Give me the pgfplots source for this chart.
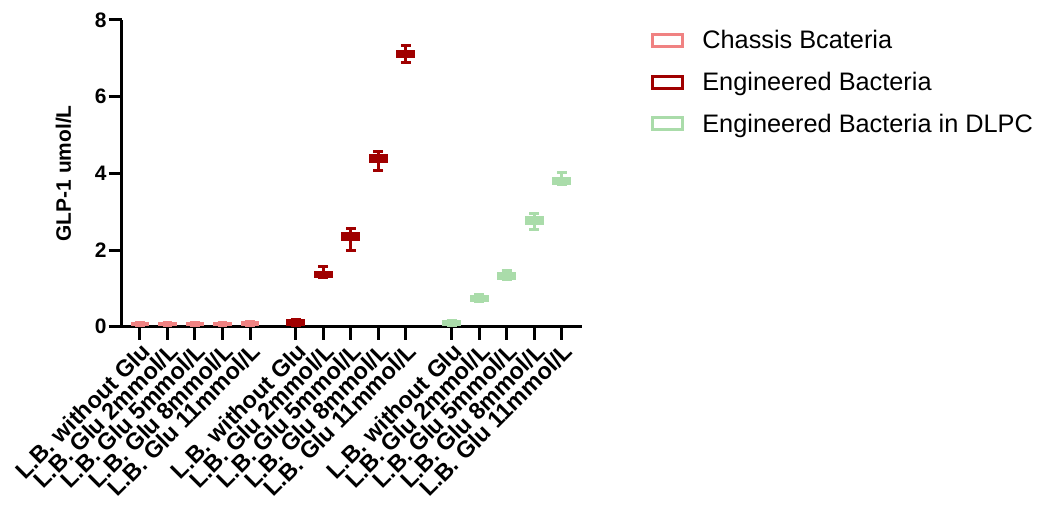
\documentclass[border=0pt]{standalone}
\usepackage{pgfplots}
\pgfplotsset{compat=1.18}
\usepgfplotslibrary{statistics}
\usepackage{fontspec}
\setmainfont{Liberation Sans}
\definecolor{cLight}{RGB}{240,130,130}
\definecolor{cDark}{RGB}{160,0,0}
\definecolor{cGreen}{RGB}{170,220,170}
\pgfplotsset{
  mybox/.style={
    forget plot,
    draw=#1, fill=#1, line width=3bp,
    boxplot/draw direction=y,
    boxplot/box extend=0.65,
    boxplot/whisker extend=0.36,
    boxplot/every box/.style={draw=#1, fill=#1, line width=1bp},
    boxplot/every median/.style={draw=#1, line width=1bp},
    boxplot/every whisker/.style={draw=#1, line width=3bp},
  }
}
\newcommand{\bx}[7]{%
  \addplot[mybox=#1, boxplot prepared={draw position=#2, lower whisker=#3,
     lower quartile=#4, median=#5, upper quartile=#6, upper whisker=#7}] coordinates {};}
\begin{document}
\begin{tikzpicture}
\begin{axis}[
  scale only axis,
  width=460bp, height=306.7bp,
  at={(0,0)}, anchor=south west,
  xmin=-0.665, xmax=16.06,
  ymin=0, ymax=8,
  ytick={0,2,4,6,8},
  xtick={0,1,2,3,4,5.667,6.667,7.667,8.667,9.667,11.333,12.333,13.333,14.333,15.333},
  xticklabels={L.B. without Glu,L.B. Glu 2mmol/L,L.B. Glu 5mmol/L,L.B. Glu 8mmol/L,L.B. Glu 11mmol/L,
               L.B. without Glu,L.B. Glu 2mmol/L,L.B. Glu 5mmol/L,L.B. Glu 8mmol/L,L.B. Glu 11mmol/L,
               L.B. without Glu,L.B. Glu 2mmol/L,L.B. Glu 5mmol/L,L.B. Glu 8mmol/L,L.B. Glu 11mmol/L},
  axis x line*=bottom, axis y line*=left,
  axis line style={line width=3bp, black},
  tick align=outside,
  major tick length=13bp,
  tick style={line width=3bp, black},
  /pgf/number format/assume math mode=true,
  yticklabel style={font=\fontsize{21}{21}\selectfont\bfseries, inner sep=2bp},
  xticklabel style={font=\fontsize{23.5}{23.5}\selectfont\bfseries, rotate=45, anchor=north east, inner sep=1bp},
  ylabel={GLP-1 umol/L},
  ylabel style={font=\fontsize{21}{21}\selectfont\bfseries, at={(axis description cs:-0.102,0.5)}, anchor=south, rotate=0},
  clip=false,
  legend style={at={(axis description cs:1.143,0.98)}, anchor=north west, draw=none, fill=none,
    font=\fontsize{25.4}{25.4}\selectfont, row sep=18bp, legend cell align=left,
    /tikz/every even column/.append style={column sep=0bp}},
  legend image code/.code={\draw[#1, line width=3bp] (0bp,-6bp) rectangle (30bp,6bp); \path (48bp,0bp);},
]
\addlegendimage{draw=cLight}\addlegendentry{Chassis Bcateria}
\addlegendimage{draw=cDark}\addlegendentry{Engineered Bacteria}
\addlegendimage{draw=cGreen}\addlegendentry{Engineered Bacteria in DLPC}
% Chassis
\bx{cLight}{0}{0.03}{0.03}{0.08}{0.12}{0.12}
\bx{cLight}{1}{0.03}{0.03}{0.08}{0.12}{0.12}
\bx{cLight}{2}{0.02}{0.02}{0.06}{0.10}{0.10}
\bx{cLight}{3}{0.03}{0.03}{0.08}{0.12}{0.12}
\bx{cLight}{4}{0.03}{0.03}{0.09}{0.14}{0.14}
% Engineered
\bx{cDark}{5.667}{0.04}{0.04}{0.12}{0.19}{0.19}
\bx{cDark}{6.667}{1.28}{1.28}{1.36}{1.44}{1.57}
\bx{cDark}{7.667}{2.00}{2.26}{2.36}{2.46}{2.55}
\bx{cDark}{8.667}{4.07}{4.29}{4.38}{4.48}{4.57}
\bx{cDark}{9.667}{6.88}{7.01}{7.10}{7.20}{7.34}
% DLPC
\bx{cGreen}{11.333}{0.04}{0.04}{0.10}{0.17}{0.17}
\bx{cGreen}{12.333}{0.66}{0.66}{0.74}{0.82}{0.84}
\bx{cGreen}{13.333}{1.24}{1.24}{1.32}{1.41}{1.46}
\bx{cGreen}{14.333}{2.54}{2.66}{2.76}{2.87}{2.96}
\bx{cGreen}{15.333}{3.72}{3.72}{3.80}{3.89}{4.03}
\end{axis}
\pgfresetboundingbox
\path[use as bounding box] (-121.7bp,-180.3bp) rectangle (915.3bp,326.7bp);
\end{tikzpicture}
\end{document}
